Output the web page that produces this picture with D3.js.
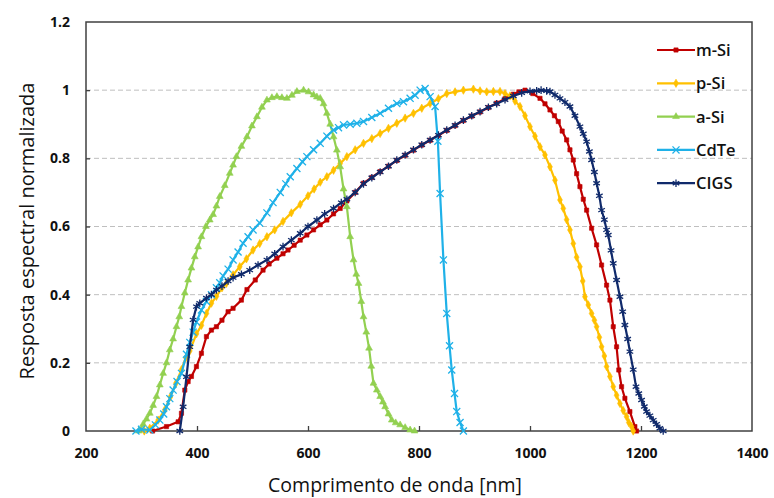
<!DOCTYPE html>
<html>
<head>
<meta charset="utf-8">
<script src="https://cdn.jsdelivr.net/npm/d3@7"></script>
<style>
  html, body { margin: 0; padding: 0; background: #fff; }
  svg { display: block; }
  text { font-family: "Open Sans", "Noto Sans", sans-serif; }
</style>
</head>
<body>
<svg id="chart" width="774" height="498"></svg>
<script>
// Normalised spectral response of five PV technologies: [wavelength nm, response]
const mSi = [
  [320,0],[345,0.013],[366,0.027],[372,0.052],[378,0.12],[384,0.145],[390,0.16],[399,0.189],
  [408,0.228],[417,0.277],[426,0.296],[435,0.306],[445,0.325],[456,0.35],[465,0.36],[480,0.384],
  [490,0.415],[505,0.443],[519,0.472],[530,0.49],[544,0.507],[555,0.52],[564,0.531],[575,0.545],
  [586,0.56],[598,0.575],[610,0.59],[622,0.605],[634,0.619],[646,0.637],[658,0.653],[670,0.675],
  [685,0.70],[700,0.727],[715,0.744],[730,0.761],[745,0.777],[760,0.794],[775,0.809],[790,0.824],
  [805,0.839],[820,0.853],[835,0.867],[850,0.882],[865,0.896],[880,0.911],[895,0.924],[910,0.936],
  [925,0.949],[940,0.962],[955,0.975],[970,0.988],[980,0.995],[991,1.0],[1005,0.99],[1018,0.976],
  [1027,0.96],[1036,0.942],[1044,0.925],[1051,0.908],[1058,0.88],[1066,0.854],[1072,0.825],
  [1078,0.795],[1084,0.755],[1090,0.717],[1096,0.68],[1102,0.648],[1111,0.595],[1120,0.546],
  [1129,0.487],[1138,0.428],[1144,0.384],[1150,0.306],[1156,0.247],[1160,0.179],[1165,0.13],
  [1171,0.096],[1180,0.057],[1189,0.013],[1192,0]
];
const pSi = [
  [305,0],[315,0.008],[330,0.032],[342,0.062],[352,0.10],[362,0.14],[372,0.18],[380,0.215],
  [387,0.235],[399,0.285],[408,0.31],[417,0.345],[426,0.375],[435,0.395],[445,0.42],[453,0.433],
  [465,0.458],[477,0.482],[489,0.505],[501,0.531],[513,0.55],[526,0.57],[540,0.59],[555,0.615],
  [570,0.64],[586,0.665],[600,0.69],[611,0.71],[622,0.73],[634,0.746],[646,0.765],[658,0.785],
  [670,0.805],[685,0.825],[700,0.844],[715,0.858],[730,0.873],[745,0.888],[760,0.903],[775,0.918],
  [790,0.932],[805,0.947],[820,0.961],[835,0.975],[850,0.99],[865,0.995],[880,1.0],[898,1.003],
  [910,0.998],[922,0.995],[934,0.996],[946,0.996],[955,0.99],[964,0.983],[973,0.968],[982,0.952],
  [991,0.925],[1000,0.893],[1009,0.865],[1018,0.834],[1027,0.81],[1036,0.775],[1045,0.736],
  [1054,0.678],[1060,0.653],[1066,0.62],[1072,0.59],[1078,0.55],[1084,0.51],[1090,0.482],
  [1095,0.44],[1099,0.394],[1105,0.37],[1111,0.345],[1116,0.325],[1120,0.306],[1125,0.275],
  [1129,0.247],[1134,0.22],[1138,0.189],[1144,0.16],[1150,0.13],[1156,0.105],[1162,0.081],
  [1168,0.06],[1174,0.042],[1178,0.025],[1183,0.013],[1186,0]
];
const aSi = [
  [295,0],[303,0.02],[309,0.035],[315,0.052],[321,0.075],[327,0.101],[333,0.135],[339,0.169],
  [345,0.2],[351,0.238],[357,0.27],[363,0.306],[368,0.335],[372,0.365],[378,0.405],[384,0.443],
  [390,0.478],[396,0.511],[402,0.54],[408,0.57],[416,0.6],[423,0.619],[429,0.635],[435,0.66],
  [441,0.688],[450,0.72],[459,0.756],[465,0.78],[471,0.805],[480,0.835],[490,0.863],[499,0.895],
  [508,0.922],[517,0.95],[526,0.971],[535,0.978],[544,0.981],[553,0.978],[562,0.976],[571,0.985],
  [580,0.996],[592,1.0],[601,0.995],[610,0.986],[616,0.98],[622,0.976],[628,0.96],[634,0.932],
  [640,0.9],[646,0.863],[652,0.824],[658,0.775],[664,0.71],[670,0.658],[676,0.57],[682,0.502],
  [687,0.46],[691,0.433],[696,0.38],[700,0.335],[705,0.29],[710,0.243],[714,0.19],[718,0.14],
  [724,0.12],[730,0.101],[735,0.085],[739,0.071],[745,0.05],[751,0.032],[758,0.024],[766,0.018],
  [775,0.01],[784,0.003],[792,0]
];
const cdTe = [
  [290,0],[300,0.005],[315,0.003],[325,0.018],[333,0.032],[340,0.05],[345,0.071],[351,0.095],
  [357,0.12],[364,0.145],[372,0.169],[381,0.225],[387,0.26],[393,0.29],[399,0.32],[408,0.355],
  [417,0.38],[426,0.40],[435,0.42],[441,0.435],[447,0.455],[456,0.475],[465,0.502],[474,0.525],
  [483,0.551],[492,0.57],[501,0.59],[513,0.61],[526,0.64],[537,0.67],[550,0.70],[560,0.725],
  [568,0.746],[580,0.77],[590,0.79],[598,0.805],[610,0.825],[622,0.844],[634,0.865],[646,0.883],
  [655,0.89],[664,0.898],[676,0.9],[688,0.903],[700,0.908],[715,0.92],[730,0.932],[745,0.947],
  [760,0.961],[772,0.966],[784,0.976],[793,0.985],[802,1.0],[811,1.005],[820,0.981],[829,0.952],
  [834,0.85],[838,0.697],[844,0.502],[850,0.345],[855,0.25],[859,0.179],[864,0.11],[868,0.057],
  [874,0.025],[880,0]
];
const cigs = [
  [369,0],[375,0.071],[381,0.159],[387,0.247],[393,0.326],[399,0.365],[405,0.375],[417,0.39],
  [426,0.40],[435,0.414],[445,0.425],[456,0.44],[465,0.45],[480,0.46],[495,0.472],[510,0.487],
  [526,0.502],[540,0.52],[555,0.541],[570,0.56],[586,0.58],[600,0.60],[616,0.619],[630,0.637],
  [646,0.653],[660,0.67],[670,0.68],[685,0.70],[700,0.725],[715,0.743],[730,0.76],[745,0.777],
  [760,0.795],[775,0.81],[790,0.825],[805,0.84],[820,0.854],[835,0.868],[850,0.883],[865,0.897],
  [880,0.912],[895,0.925],[910,0.937],[925,0.95],[940,0.96],[955,0.972],[970,0.983],[985,0.992],
  [1000,0.997],[1012,0.998],[1020,1.0],[1030,0.998],[1036,0.996],[1045,0.986],[1054,0.976],
  [1063,0.965],[1072,0.952],[1081,0.925],[1090,0.893],[1096,0.872],[1102,0.849],[1107,0.82],
  [1111,0.795],[1116,0.76],[1120,0.727],[1125,0.69],[1129,0.648],[1134,0.62],[1138,0.59],
  [1141,0.575],[1146,0.53],[1150,0.492],[1156,0.443],[1162,0.394],[1167,0.35],[1171,0.311],
  [1176,0.27],[1180,0.233],[1186,0.18],[1191,0.13],[1196,0.11],[1201,0.091],[1206,0.072],
  [1210,0.057],[1216,0.045],[1222,0.032],[1228,0.02],[1234,0.008],[1240,0]
];

const seriesNames = ["m-Si", "p-Si", "a-Si", "CdTe", "CIGS"];
const seriesData = [mSi, pSi, aSi, cdTe, cigs];
const seriesColors = ["#C00000", "#FFC000", "#92D050", "#1FB1E8", "#102A6B"];
const seriesMarkers = ["square", "diamond", "triangle", "times", "asterisk"];

const xTicks = [200, 400, 600, 800, 1000, 1200, 1400];
const yTicks = [0, 0.2, 0.4, 0.6, 0.8, 1, 1.2];
const xTitle = "Comprimento de onda [nm]";
const yTitle = "Resposta espectral normalizada";

const svg = d3.select("#chart");
const plot = { left: 86, right: 752, top: 22, bottom: 431 };

const x = d3.scaleLinear().domain([200, 1400]).range([plot.left, plot.right]);
const y = d3.scaleLinear().domain([0, 1.2]).range([plot.bottom, plot.top]);

// dashed horizontal gridlines
svg.append("g")
  .selectAll("line")
  .data(yTicks.filter(v => v > 0 && v < 1.2))
  .join("line")
  .attr("x1", plot.left).attr("x2", plot.right)
  .attr("y1", d => y(d)).attr("y2", d => y(d))
  .attr("stroke", "#BFBFBF").attr("stroke-width", 1)
  .attr("stroke-dasharray", "5,3");

// axes
const xAxis = d3.axisBottom(x).tickValues(xTicks).tickSize(-5).tickPadding(17).tickFormat(d3.format("d"));
const yAxis = d3.axisLeft(y).tickValues(yTicks).tickSize(-4).tickPadding(16)
  .tickFormat(d => d === 1 ? "1" : d === 0 ? "0" : d3.format(".1f")(d));

const gx = svg.append("g").attr("transform", `translate(0,${plot.bottom})`).call(xAxis);
const gy = svg.append("g").attr("transform", `translate(${plot.left},0)`).call(yAxis);
[gx, gy].forEach(g => {
  g.select(".domain").remove();
  g.selectAll(".tick line").attr("stroke", "#404040").attr("stroke-width", 1.3);
  g.selectAll(".tick text")
    .attr("fill", "#111")
    .style("font-family", "'Open Sans', sans-serif")
    .style("font-size", "14px")
    .style("font-weight", "bold");
});
gx.selectAll(".tick line").filter(d => d === 200 || d === 1400).remove();
gy.selectAll(".tick line").filter(d => d === 0 || d === 1.2).remove();

// plot frame
svg.append("rect")
  .attr("x", plot.left).attr("y", plot.top)
  .attr("width", plot.right - plot.left).attr("height", plot.bottom - plot.top)
  .attr("fill", "none").attr("stroke", "#404040").attr("stroke-width", 1.5);

// axis titles
svg.append("text")
  .attr("x", 395).attr("y", 492)
  .attr("text-anchor", "middle")
  .style("font-size", "19.5px").attr("fill", "#111")
  .text(xTitle);
svg.append("text")
  .attr("transform", "translate(34,231) rotate(-90)")
  .attr("text-anchor", "middle")
  .style("font-size", "20px").attr("fill", "#111")
  .text(yTitle);

const symbolTypes = {
  square: d3.symbolSquare, diamond: d3.symbolDiamond, triangle: d3.symbolTriangle,
  times: d3.symbolTimes, asterisk: d3.symbolAsterisk
};
const symbolSizes = { square: 18, diamond: 20, triangle: 20, times: 34, asterisk: 40 };
function drawMarker(g, kind, color, px, py) {
  const p = d3.symbol().type(symbolTypes[kind]).size(symbolSizes[kind])();
  const stroked = kind === "times" || kind === "asterisk";
  g.append("path")
    .attr("d", p)
    .attr("transform", `translate(${px},${py})`)
    .attr("fill", stroked ? "none" : color)
    .attr("stroke", color)
    .attr("stroke-width", stroked ? 1.3 : 0.6);
}

const line = d3.line().x(d => x(d[0])).y(d => y(d[1]));

seriesData.forEach((data, i) => {
  const g = svg.append("g");
  g.append("path")
    .datum(data)
    .attr("d", line)
    .attr("fill", "none")
    .attr("stroke", seriesColors[i])
    .attr("stroke-width", 2.2)
    .attr("stroke-linejoin", "round");
  data.forEach(d => drawMarker(g, seriesMarkers[i], seriesColors[i], x(d[0]), y(d[1])));
});

// legend
const legend = svg.append("g");
seriesNames.forEach((name, i) => {
  const ly = 50 + i * 33.3;
  const g = legend.append("g");
  g.append("line")
    .attr("x1", 657).attr("x2", 695).attr("y1", ly).attr("y2", ly)
    .attr("stroke", seriesColors[i]).attr("stroke-width", 2.2);
  drawMarker(g, seriesMarkers[i], seriesColors[i], 676, ly);
  g.append("text")
    .attr("x", 696).attr("y", ly + 6)
    .style("font-size", "16.5px").style("font-weight", "600").attr("fill", "#111")
    .text(name);
});
</script>
</body>
</html>
